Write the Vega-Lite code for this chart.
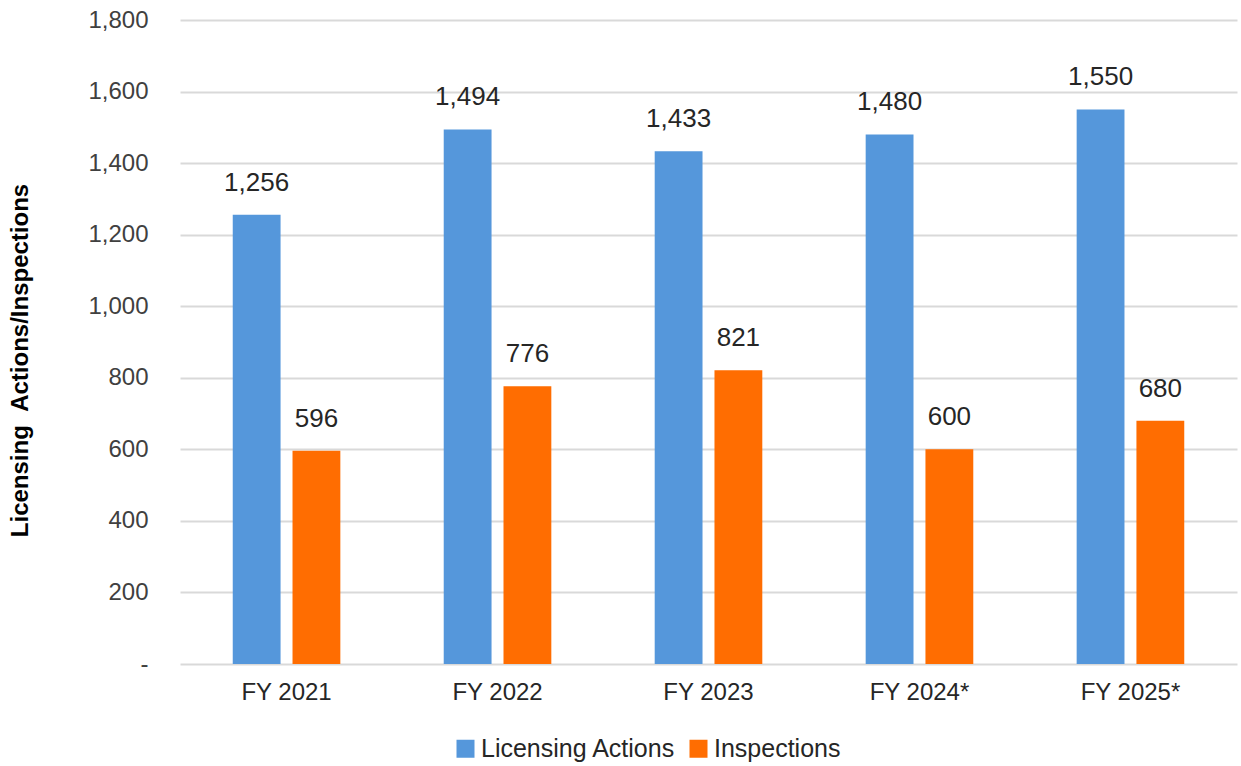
{
  "$schema": "https://vega.github.io/schema/vega-lite/v6.json",
  "width": 1057,
  "height": 644,
  "autosize": {"type": "none"},
  "padding": {"left": 180, "top": 20, "right": 4, "bottom": 102},
  "background": "white",
  "config": {
    "view": {"stroke": null},
    "font": "Liberation Sans",
    "axis": {"labelFont": "Liberation Sans", "titleFont": "Liberation Sans"},
    "legend": {"labelFont": "Liberation Sans"}
  },
  "data": {
    "values": [
      {"year": "FY 2021", "series": "Licensing Actions", "value": 1256},
      {"year": "FY 2021", "series": "Inspections", "value": 596},
      {"year": "FY 2022", "series": "Licensing Actions", "value": 1494},
      {"year": "FY 2022", "series": "Inspections", "value": 776},
      {"year": "FY 2023", "series": "Licensing Actions", "value": 1433},
      {"year": "FY 2023", "series": "Inspections", "value": 821},
      {"year": "FY 2024*", "series": "Licensing Actions", "value": 1480},
      {"year": "FY 2024*", "series": "Inspections", "value": 600},
      {"year": "FY 2025*", "series": "Licensing Actions", "value": 1550},
      {"year": "FY 2025*", "series": "Inspections", "value": 680}
    ]
  },
  "encoding": {
    "x": {
      "field": "year", "type": "nominal", "sort": null,
      "scale": {"paddingInner": 0.49, "paddingOuter": 0.25},
      "axis": {"title": null, "labelAngle": 0, "domain": false, "ticks": false,
               "labelFontSize": 24, "labelColor": "#262626", "labelPadding": 16}
    },
    "xOffset": {
      "field": "series", "type": "nominal",
      "sort": ["Licensing Actions", "Inspections"],
      "scale": {"paddingInner": 0.2}
    },
    "y": {
      "field": "value", "type": "quantitative",
      "scale": {"domain": [0, 1800], "nice": false},
      "axis": {
        "title": "Licensing\u00a0\u00a0Actions/Inspections",
        "titleFontSize": 24, "titleFontWeight": "bold", "titleColor": "#000000",
        "titlePadding": 55, "titleY": 340,
        "values": [0, 200, 400, 600, 800, 1000, 1200, 1400, 1600, 1800],
        "labelExpr": "datum.value == 0 ? '-' : format(datum.value, ',')",
        "labelFontSize": 24, "labelColor": "#404040", "labelPadding": 32,
        "domain": false, "ticks": false,
        "grid": true, "gridColor": "#d9d9d9", "gridWidth": 2
      }
    }
  },
  "layer": [
    {
      "mark": {"type": "bar"},
      "encoding": {
        "color": {
          "field": "series", "type": "nominal",
          "sort": ["Licensing Actions", "Inspections"],
          "scale": {"domain": ["Licensing Actions", "Inspections"], "range": ["#5597DB", "#FF6D01"]},
          "legend": {
            "title": null, "orient": "none", "direction": "horizontal",
            "legendX": 273, "legendY": 716,
            "symbolType": "square", "symbolSize": 324, "symbolStrokeWidth": 0,
            "labelFontSize": 25, "labelColor": "#262626", "labelOffset": 3,
            "labelLimit": 0, "columnPadding": 10
          }
        }
      }
    },
    {
      "mark": {"type": "text", "baseline": "alphabetic", "dy": -24, "fontSize": 26, "color": "#262626"},
      "encoding": {
        "text": {"field": "value", "type": "quantitative", "format": ","}
      }
    }
  ]
}
